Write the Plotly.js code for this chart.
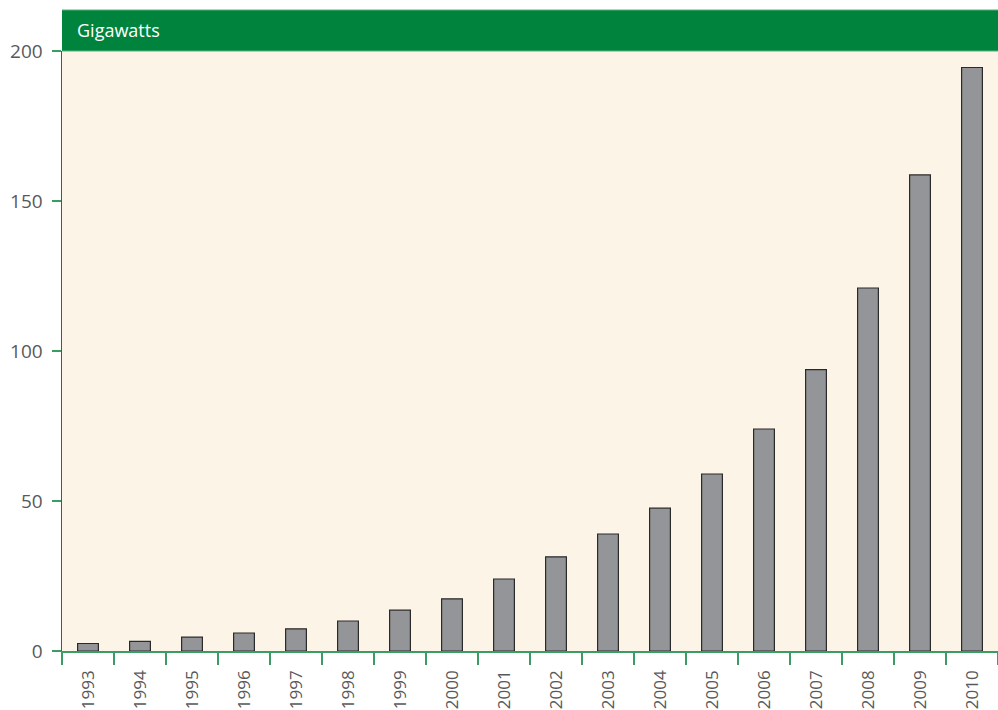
<!DOCTYPE html>
<html>
<head>
<meta charset="utf-8">
<script src="https://cdn.plot.ly/plotly-3.0.1.min.js"></script>
<style>html,body{margin:0;padding:0;background:#fff;}#chart{width:998px;height:710px;}</style>
</head>
<body>
<div id="chart"></div>
<script>
const years = ['1993','1994','1995','1996','1997','1998','1999','2000','2001','2002','2003','2004','2005','2006','2007','2008','2009','2010'];
const capacityGW = [2.5, 3.2, 4.6, 6.0, 7.4, 10.0, 13.6, 17.4, 24.0, 31.4, 39.0, 47.6, 59.0, 74.0, 93.8, 121.0, 158.7, 194.5];
const yTicks = [0, 50, 100, 150, 200];
const unitLabel = 'Gigawatts';

const green = '#00843d';
const lineGreen = '#3a9e64';
const textGray = '#58595b';

const trace = {
  type: 'bar',
  x: years,
  y: capacityGW,
  marker: {color: '#939598', line: {color: '#2b2a2b', width: 1.2}},
  hoverinfo: 'x+y'
};

const layout = {
  width: 998, height: 710,
  margin: {l: 62, r: 0, t: 51, b: 59},
  paper_bgcolor: '#ffffff',
  plot_bgcolor: '#fcf4e6',
  bargap: 0.6,
  showlegend: false,
  font: {family: 'Open Sans, sans-serif', color: textGray, size: 19},
  xaxis: {
    type: 'category',
    tickson: 'boundaries',
    ticks: 'outside', ticklen: 12, tickcolor: lineGreen, tickwidth: 1.5,
    showline: true, linecolor: lineGreen, linewidth: 1.5,
    tickangle: -90,
    ticklabelstandoff: 11,
    tickfont: {size: 17, color: textGray},
    showgrid: false, zeroline: false,
    fixedrange: true
  },
  yaxis: {
    range: [0, 200],
    tickvals: yTicks,
    ticktext: yTicks.map(String),
    ticks: 'outside', ticklen: 9, tickcolor: lineGreen, tickwidth: 1.5,
    showline: true, linecolor: green, linewidth: 1.5,
    ticklabelstandoff: 5,
    showgrid: false, zeroline: false,
    tickfont: {size: 19, color: textGray},
    fixedrange: true
  },
  shapes: [
    {type: 'rect', xref: 'paper', yref: 'paper', x0: 0, x1: 1, y0: 1, y1: 1 + 41/600,
     fillcolor: green, line: {width: 0}, layer: 'above'},
    {type: 'line', xref: 'paper', yref: 'paper', x0: 0, x1: 1, y0: 1 + 41/600, y1: 1 + 41/600,
     line: {color: '#5bb07f', width: 1}, layer: 'above'},
    {type: 'line', xref: 'paper', yref: 'paper', x0: 0, x1: 1, y0: 1, y1: 1,
     line: {color: '#5bb07f', width: 1}, layer: 'above'}
  ],
  annotations: [
    {xref: 'paper', yref: 'paper', x: 0, y: 1 + 20.5/600, xanchor: 'left', yanchor: 'middle',
     xshift: 13, text: unitLabel, showarrow: false,
     font: {family: 'Open Sans, sans-serif', size: 18, color: '#ffffff'}}
  ]
};

Plotly.newPlot('chart', [trace], layout, {displayModeBar: false, staticPlot: true});
</script>
</body>
</html>
